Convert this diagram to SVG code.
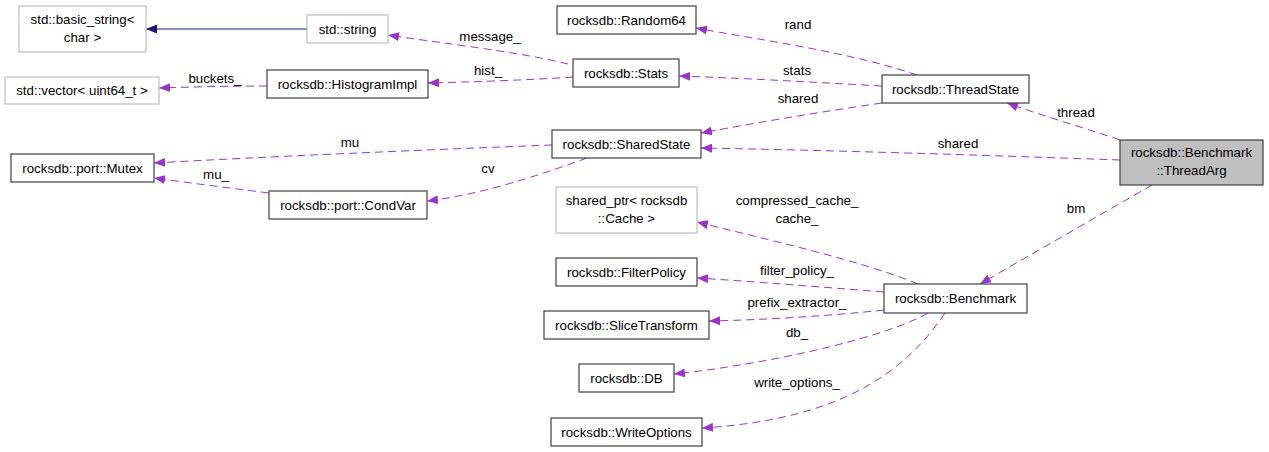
<svg xmlns="http://www.w3.org/2000/svg" width="1269" height="452" viewBox="0 0 1269 452">
<style>
text{font-family:"Liberation Sans",Arial,sans-serif;font-size:13.3px;fill:#000;text-anchor:middle}
.n rect{fill:#fff;stroke:#404040;stroke-width:1.2}
.g rect{fill:#fff;stroke:#bfbfbf;stroke-width:1.2}
.e path{fill:none;stroke:#9a32cd;stroke-width:1;stroke-dasharray:8,5}
.i{fill:none;stroke:#191970;stroke-width:1}
</style>
<defs>
<marker id="ap" markerUnits="userSpaceOnUse" markerWidth="12" markerHeight="9" refX="11" refY="4.5" orient="auto">
<path d="M0,0 L11,4.5 L0,9 z" fill="#9a32cd"/>
</marker>
<marker id="an" markerUnits="userSpaceOnUse" markerWidth="12" markerHeight="9" refX="11" refY="4.5" orient="auto">
<path d="M0,0 L11,4.5 L0,9 z" fill="#191970"/>
</marker>
</defs>
<rect width="1269" height="452" fill="#fff"/>
<g id="connectors">
<path class="i" d="M307,29 L146,29" marker-end="url(#an)"/>
<g class="e">
<path d="M568,64 C520,52 440,43 388,35" marker-end="url(#ap)"/>
<path d="M573,77 C530,80 470,82 428,83" marker-end="url(#ap)"/>
<path d="M267,86 C230,86 190,87 159,88" marker-end="url(#ap)"/>
<path d="M917,75 C850,52 760,40 696,28" marker-end="url(#ap)"/>
<path d="M882,86 C810,82 740,78 679,76" marker-end="url(#ap)"/>
<path d="M882,103 C820,112 760,122 701,133" marker-end="url(#ap)"/>
<path d="M1120,140 C1085,128 1040,115 1007,103" marker-end="url(#ap)"/>
<path d="M1120,160 C980,155 820,150 701,148" marker-end="url(#ap)"/>
<path d="M1152,185 C1100,215 1030,255 980,284" marker-end="url(#ap)"/>
<path d="M552,145 C420,150 260,157 154,163" marker-end="url(#ap)"/>
<path d="M587,158 C540,175 480,195 427,201" marker-end="url(#ap)"/>
<path d="M269,193 C230,188 190,183 154,178" marker-end="url(#ap)"/>
<path d="M918,284 C860,260 760,238 697,222" marker-end="url(#ap)"/>
<path d="M884,292 C820,287 760,282 697,278" marker-end="url(#ap)"/>
<path d="M884,310 C830,316 760,320 709,321" marker-end="url(#ap)"/>
<path d="M928,313 C880,340 760,365 674,374" marker-end="url(#ap)"/>
<path d="M945,313 C900,380 830,420 702,428" marker-end="url(#ap)"/>
</g>
<text x="490" y="41">message_</text>
<text x="488" y="75">hist_</text>
<text x="215" y="83">buckets_</text>
<text x="798" y="29">rand</text>
<text x="797" y="75">stats</text>
<text x="798" y="103">shared</text>
<text x="1076" y="117">thread</text>
<text x="958" y="148">shared</text>
<text x="1076" y="213">bm</text>
<text x="350" y="147">mu</text>
<text x="488" y="173">cv</text>
<text x="216" y="179">mu_</text>
<text x="797" y="205">compressed_cache_</text>
<text x="797" y="223">cache_</text>
<text x="797" y="275">filter_policy_</text>
<text x="797" y="307">prefix_extractor_</text>
<text x="797" y="337">db_</text>
<text x="797" y="387">write_options_</text>
</g>
<g id="basic_string" class="g"><rect x="19" y="6" width="127" height="46"/><text x="82.5" y="24">std::basic_string&lt;</text><text x="82.5" y="42">char &gt;</text></g>
<g id="std_string" class="g"><rect x="307" y="15" width="81" height="28"/><text x="347.5" y="33.5">std::string</text></g>
<g id="std_vector" class="g"><rect x="5" y="77" width="154" height="27"/><text x="82" y="95">std::vector&lt; uint64_t &gt;</text></g>
<g id="HistogramImpl" class="n"><rect x="267" y="70" width="161" height="28"/><text x="347.5" y="88.5">rocksdb::HistogramImpl</text></g>
<g id="Random64" class="n"><rect x="557" y="6" width="139" height="28"/><text x="626.5" y="24.5">rocksdb::Random64</text></g>
<g id="Stats" class="n"><rect x="573" y="59" width="106" height="28"/><text x="626" y="77.5">rocksdb::Stats</text></g>
<g id="ThreadState" class="n"><rect x="882" y="75" width="147" height="28"/><text x="955.5" y="93.5">rocksdb::ThreadState</text></g>
<g id="ThreadArg"><rect x="1120" y="140" width="143" height="45" fill="#bfbfbf" stroke="#404040" stroke-width="1.2"/><text x="1191.5" y="157">rocksdb::Benchmark</text><text x="1191.5" y="175">::ThreadArg</text></g>
<g id="SharedState" class="n"><rect x="552" y="130" width="149" height="28"/><text x="626.5" y="148.5">rocksdb::SharedState</text></g>
<g id="Mutex" class="n"><rect x="11" y="154" width="143" height="28"/><text x="82.5" y="172.5">rocksdb::port::Mutex</text></g>
<g id="CondVar" class="n"><rect x="269" y="191" width="158" height="28"/><text x="348" y="209.5">rocksdb::port::CondVar</text></g>
<g id="shared_ptr" class="g"><rect x="556" y="187" width="141" height="46"/><text x="626.5" y="205">shared_ptr&lt; rocksdb</text><text x="626.5" y="223">::Cache &gt;</text></g>
<g id="FilterPolicy" class="n"><rect x="556" y="258" width="141" height="28"/><text x="626.5" y="276.5">rocksdb::FilterPolicy</text></g>
<g id="SliceTransform" class="n"><rect x="544" y="311" width="165" height="28"/><text x="626.5" y="329.5">rocksdb::SliceTransform</text></g>
<g id="Benchmark" class="n"><rect x="884" y="284" width="143" height="29"/><text x="955.5" y="303">rocksdb::Benchmark</text></g>
<g id="DB" class="n"><rect x="579" y="364" width="95" height="28"/><text x="626.5" y="382.5">rocksdb::DB</text></g>
<g id="WriteOptions" class="n"><rect x="551" y="418" width="151" height="28"/><text x="626.5" y="436.5">rocksdb::WriteOptions</text></g>
</svg>
